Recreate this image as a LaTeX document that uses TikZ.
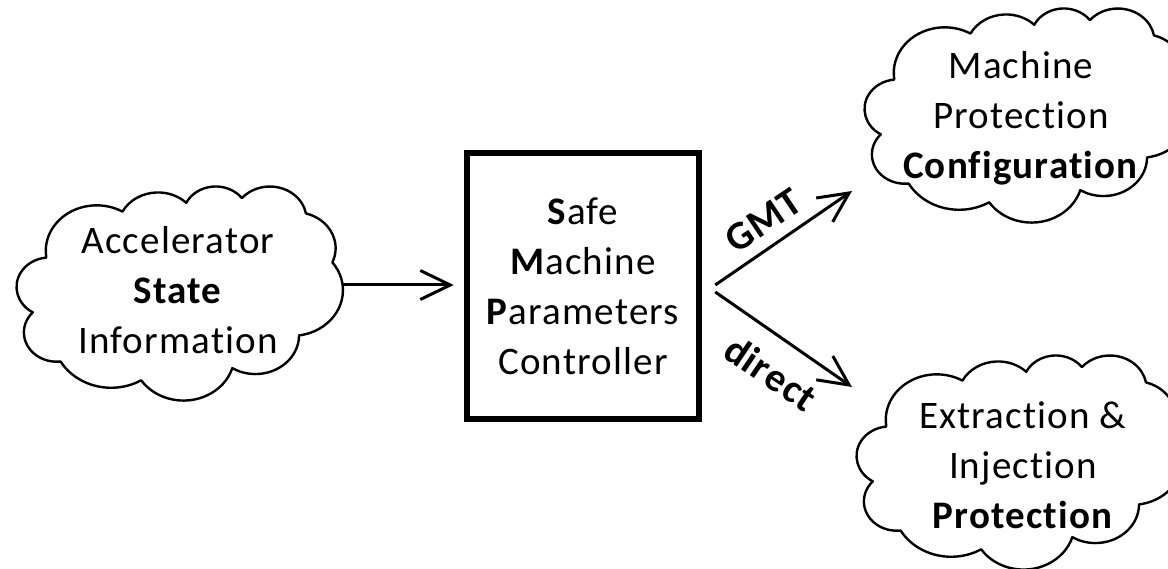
\documentclass[tikz,border=0pt]{standalone}
\usepackage{fontspec}
\setmainfont{Carlito}[LetterSpace=3.0, Ligatures={NoCommon,NoContextual}]
\usetikzlibrary{arrows.meta,calc}

\tikzset{
  % cloud outline, drawn in a 432 x 432 box (y pointing down), made of eleven elliptic puffs
  cloudshape/.pic={
    \path[cloudline] (39,143.7)
      arc[start angle=172.254, end angle=300.362, x radius=67.53, y radius=91.90]
      arc[start angle=-152.037, end angle=-45.45, x radius=53.33, y radius=72.67]
      arc[start angle=-153.49, end angle=-37.32, x radius=43.65, y radius=59.45]
      arc[start angle=-139.717, end angle=-10.212, x radius=48.57, y radius=65.95]
      arc[start angle=-74.77, end angle=23.21, x radius=53.33, y radius=72.73]
      arc[start angle=-37.53, end angle=81.86, x radius=67.75, y radius=92.20]
      arc[start angle=0.46, end angle=121.98, x radius=57.85, y radius=78.67]
      arc[start angle=16.84, end angle=146.22, x radius=67.52, y radius=92.15]
      arc[start angle=58.99, end angle=150.19, x radius=77.20, y radius=105.43]
      arc[start angle=83.31, end angle=223.12, x radius=43.60, y radius=59.18]
      arc[start angle=120.35, end angle=264.11, x radius=43.45, y radius=59.45]
      -- cycle;
  },
  cloudline/.style={draw=black, line width=2.4pt, line join=round, fill=white},
  cloudbox/.style={rectangle, minimum width=326pt, minimum height=214pt, inner sep=0pt},
  cloudtext/.style={align=center, inner sep=0pt, font=\fontsize{39}{50}\selectfont},
  smpbox/.style={draw=black, line width=6.5pt, minimum width=232pt, minimum height=266pt,
    inner sep=0pt, align=center, font=\fontsize{39}{50}\selectfont},
  flow/.style={line width=3pt, -{Straight Barb[length=30pt,width=29pt]}},
  flowlabel/.style={inner sep=0pt, font=\bfseries\fontsize{40}{44}\selectfont},
}

\begin{document}
\begin{tikzpicture}[x=1pt, y=-1pt]
  \path[use as bounding box, fill=white] (0,0) rectangle (1168,569);
  \clip (0,0) rectangle (1168,569);

  % cloud boxes
  \node[cloudbox] (asib) at (180,293) {};
  \node[cloudbox] (mpcb) at (1028,115) {};
  \node[cloudbox] (eipb) at (1020,462) {};

  \foreach \c in {asib,mpcb,eipb}
    \pic[xscale=326/432, yscale=214/432] at (\c.north west) {cloudshape};

  % texts
  \node[cloudtext] (asi) at (178,290) {Accelerator\\\textbf{State}\\Information};
  \node[cloudtext] (mpc) at (1021,118) {Machine\\Protection\\\textbf{Configuration}};
  \node[cloudtext] (eip) at (1023,465) {Extraction \&\\Injection\\\textbf{Protection}};

  % controller
  \node[smpbox] (smp) at (583,286)
    {\textbf{S}afe\\\textbf{M}achine\\\textbf{P}arameters\\Controller};

  % connectors
  \coordinate (mpcin) at (852,191);
  \coordinate (eipin) at (852,387);
  \draw[flow, shorten >=10pt] ($(asib.east)+(0,-8)$) -- ($(smp.west)+(0,-1)$);
  \draw[flow] ($(smp.east)+(13,-1)$) -- (mpcin);
  \draw[flow] ($(smp.east)+(13,6)$) -- (eipin);

  \node[flowlabel, rotate=34] (gmt) at (763,221) {GMT};
  \node[flowlabel, rotate=-34] (dir) at (771,373) {direct};
\end{tikzpicture}
\end{document}
